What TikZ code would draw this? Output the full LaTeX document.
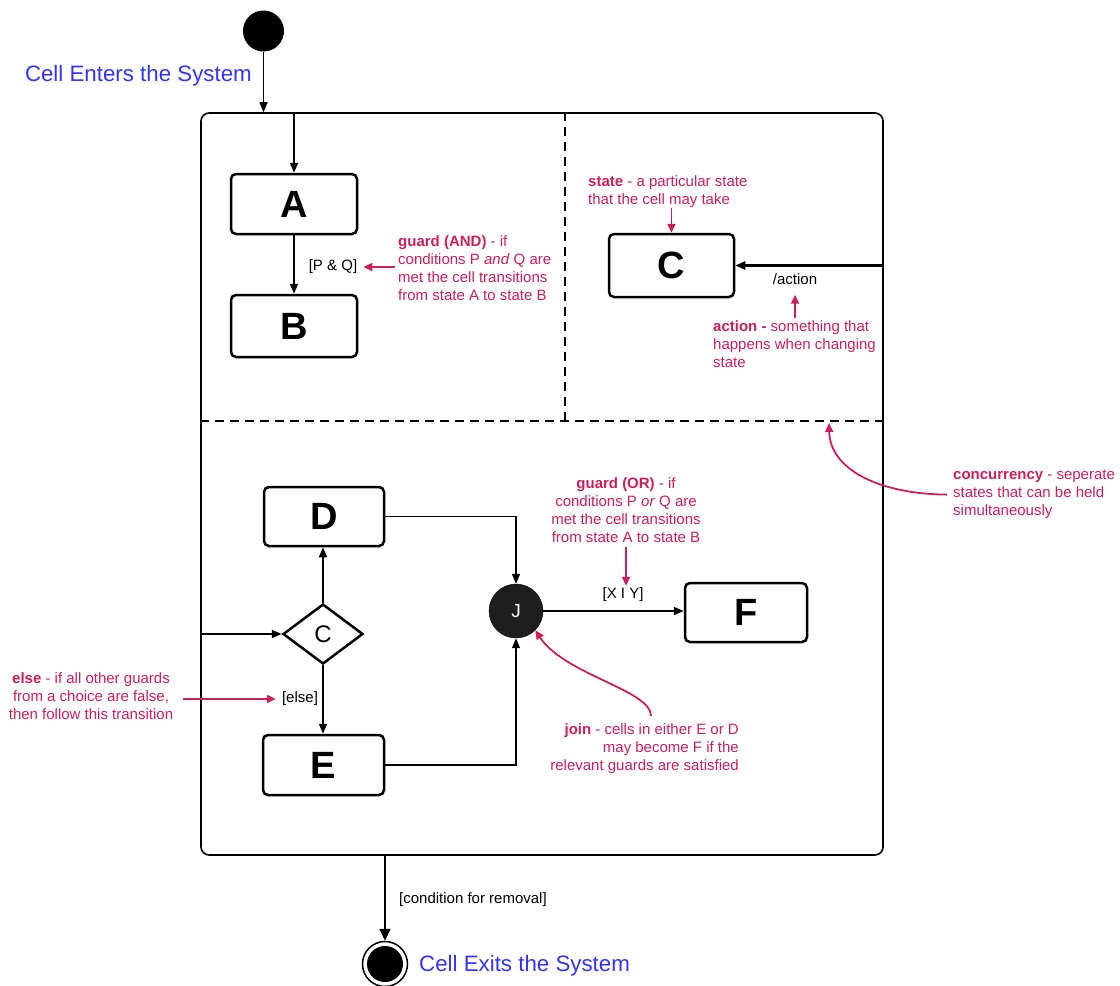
\documentclass[tikz,border=0pt]{standalone}
\usepackage{fontspec}
\setmainfont{Liberation Sans}
\usetikzlibrary{arrows.meta,shapes.geometric}
\definecolor{notecol}{RGB}{204,30,90}
\definecolor{titlecol}{RGB}{51,51,255}
\definecolor{joinfill}{RGB}{30,30,30}
\tikzset{
  statebox/.style={draw, line width=2.5pt, rounded corners=5pt, inner sep=0pt,
    font=\fontsize{38}{40}\selectfont\bfseries},
  lbl/.style={inner sep=0pt, font=\fontsize{15}{18}\selectfont},
  notetext/.style={inner sep=0pt, text=notecol, font=\fontsize{15}{18}\selectfont},
  titletext/.style={inner sep=0pt, text=titlecol, font=\fontsize{22.3}{26}\selectfont},
  flow/.style={line width=1.5pt, -{Triangle[length=10pt,width=8pt]}},
  notearrow/.style={draw=notecol, line width=1.8pt, -{Triangle[length=9pt,width=8pt]}},
  divider/.style={line width=2pt, dash pattern=on 9pt off 6pt},
}
\begin{document}
\begin{tikzpicture}[x=1pt,y=-1pt]
\useasboundingbox (0,0) rectangle (1120,986);

% initial state and its caption
\node[circle, fill=black, minimum size=41pt, inner sep=0pt] (start) at (263.5,31) {};
\node[titletext, anchor=east] (enter) at (252,76) {Cell Enters the System};

% composite state with its three concurrent regions
\node[draw, line width=1.6pt, rounded corners=8pt, minimum width=682pt,
      minimum height=742pt, inner sep=0pt] (outer) at (542,484) {};
\coordinate (split) at (565,421);
\draw[divider] (split |- outer.north) -- (split);
\draw[divider] (outer.west |- split) -- (outer.east |- split);

% states
\node[statebox, minimum width=126pt, minimum height=60pt] (A) at (294,204) {A};
\node[statebox, minimum width=126pt, minimum height=62pt] (B) at (294,326) {B};
\node[statebox, minimum width=125pt, minimum height=63pt] (C) at (671.5,265.5) {C};
\node[statebox, minimum width=120pt, minimum height=59pt] (D) at (324,516.5) {D};
\node[statebox, minimum width=121pt, minimum height=60pt] (E) at (323.5,765) {E};
\node[statebox, minimum width=122pt, minimum height=59pt] (F) at (746,612.5) {F};
\node[diamond, draw, line width=2.5pt, minimum width=80pt, minimum height=60pt,
      inner sep=0pt, font=\fontsize{24}{26}\selectfont] (ch) at (323,634) {C};
\node[circle, fill=joinfill, draw=black, minimum size=54pt, inner sep=0pt,
      text=white, font=\fontsize{19}{21}\selectfont] (J) at (516,611) {J};

% final state
\node[circle, draw, line width=1.5pt, minimum size=45pt, inner sep=0pt] (exit) at (385,964) {};
\node[circle, fill=black, minimum size=36pt, inner sep=0pt] (exitdot) at (exit.center) {};
\node[titletext, anchor=west] (leave) at (419,966) {Cell Exits the System};

% transition labels
\node[lbl] (pq) at (333,267) {[P \& Q]};
\node[lbl] (act) at (795,279) {/action};
\node[lbl] (xy) at (623,595) {[X I Y]};
\node[lbl] (els) at (300,699) {[else]};
\node[lbl, anchor=west] (rm) at (399,900) {[condition for removal]};

% transitions
\draw[flow] (start) -- (start |- outer.north);
\draw[flow] (A |- outer.north) -- (A.north);
\draw[flow] (A) -- (B);
\draw[flow, line width=2.3pt] (C.east -| outer.east) -- (C.east);
\draw[flow] (outer.west |- ch.west) -- (ch.west);
\draw[flow] (ch.north) -- (ch.north |- D.south);
\draw[flow] (ch.south) -- (ch.south |- E.north);
\draw[flow] (D.east) -| (J.north);
\draw[flow] (E.east) -| (J.south);
\draw[flow] (J.east) -- (J.east -| F.west);
\draw[line width=2pt, -{Triangle[length=12pt,width=11pt]}] (exit |- outer.south) -- (exit.north);

% annotations
\node[notetext, anchor=north west, align=left] (gand) at (398,235) {\textbf{guard (AND)} - if\\conditions P \textit{and} Q are\\met the cell transitions\\from state A to state B};
\node[notetext, anchor=north west, align=left] (st) at (588,175) {\textbf{state} - a particular state\\that the cell may take};
\node[notetext, anchor=north west, align=left] (actn) at (713,320) {\textbf{action -} something that\\happens when changing\\state};
\node[notetext, anchor=north west, align=left] (conc) at (953,470) {\textbf{concurrency} - seperate\\states that can be held\\simultaneously};
\node[notetext, anchor=north, align=center] (gor) at (626,477) {\textbf{guard (OR)} - if\\conditions P \textit{or} Q are\\met the cell transitions\\from state A to state B};
\node[notetext, anchor=north, align=center] (elsn) at (91,672) {\textbf{else} - if all other guards\\from a choice are false,\\then follow this transition};
\node[notetext, anchor=north east, align=right] (joinn) at (739,723) {\textbf{join} - cells in either E or D\\may become F if the\\relevant guards are satisfied};

\draw[notearrow, shorten <=3pt, shorten >=6pt] (gand.west |- pq) -- (pq.east);
\draw[notearrow, shorten <=1pt] (C.north |- st.south) -- (C.north);
\draw[notearrow, shorten <=2pt, shorten >=10pt] (act |- actn.north) -- (act.south);
\draw[notearrow, shorten <=5pt, shorten >=2pt] (gor.south) -- (gor.south |- xy.north);
\draw[notearrow, shorten <=10pt, shorten >=6pt] (els.west -| elsn.east) -- (els.west);
\coordinate (concTip) at (829,423);
\draw[notearrow] ([xshift=-6pt]conc.west) .. controls (880,494) and (830,470) .. (concTip);
\coordinate (joinTail) at (651,716);
\draw[notearrow] (joinTail) .. controls (651,690) and (565,675) .. (J.-45);
\end{tikzpicture}
\end{document}
